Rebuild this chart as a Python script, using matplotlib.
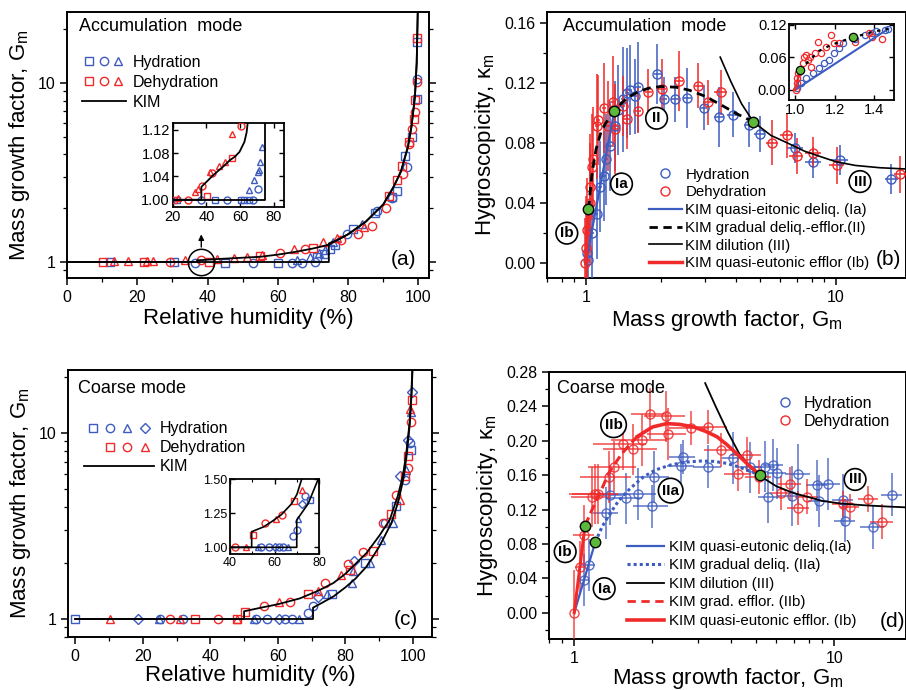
import matplotlib
matplotlib.use("Agg")
import matplotlib.pyplot as plt
from matplotlib.lines import Line2D
from matplotlib.legend_handler import HandlerTuple
from matplotlib.ticker import (FixedLocator, NullFormatter, FormatStrFormatter,
                               MultipleLocator, LogLocator)

plt.rcParams['font.family'] = ['Liberation Sans', 'DejaVu Sans']
plt.rcParams['mathtext.fontset'] = 'custom'
plt.rcParams['mathtext.rm'] = 'Liberation Sans'
plt.rcParams['mathtext.default'] = 'regular'

BLUE = '#3d5cc0'
RED = '#f02a2a'
GREEN = '#5cb83a'

GM_LABEL = 'Mass growth factor, G$_\\mathrm{m}$'
KAPPA_LABEL = 'Hygroscopicity, \u03ba$_\\mathrm{m}$'

# ---------------- (a) accumulation mode, Gm vs RH ----------------
a_hyd_sq_rh = [12.3, 30.3, 45.0, 60.0, 71.1, 73.0, 74.7, 76.3, 81.5, 87.7, 92.4, 93.8, 96.2, 98.1, 99.5, 99.7]
a_hyd_sq_gm = [1.0, 1.0, 0.99, 0.99, 1.07, 1.11, 1.19, 1.24, 1.53, 1.88, 2.31, 2.51, 3.9, 4.99, 8.19, 16.9]
a_hyd_ci_rh = [36.5, 52.8, 64.0, 66.8, 70.6, 79.6, 88.2, 92.4, 96.7, 99.5]
a_hyd_ci_gm = [0.99, 0.99, 0.99, 0.99, 1.0, 1.44, 1.94, 2.29, 3.4, 10.5]
a_hyd_tr_rh = [65.4, 69.2, 71.6, 73.5, 75.8, 83.9]
a_hyd_tr_gm = [1.02, 1.07, 1.12, 1.16, 1.3, 1.64]
a_deh_sq_rh = [10.2, 22.0, 40.5, 54.8, 70.0, 91.5, 93.8, 95.3, 97.4, 98.6, 99.0, 99.7]
a_deh_sq_gm = [1.0, 1.0, 1.0, 1.075, 1.2, 2.33, 2.86, 3.44, 4.68, 6.33, 8.06, 17.9]
a_deh_ci_rh = [29.2, 38.2, 60.5, 67.8, 77.9, 82.9, 86.7, 90.8, 95.5, 97.4, 98.1, 99.1, 99.5]
a_deh_ci_gm = [1.0, 1.02, 1.12, 1.19, 1.32, 1.44, 1.6, 2.01, 3.11, 4.59, 5.55, 6.88, 10.1]
a_deh_tr_rh = [13.3, 17.3, 22.7, 24.5, 33.6, 42.7, 47.4, 51.2, 55.5, 64.5, 72.8, 76.8, 84.4]
a_deh_tr_gm = [1.01, 1.01, 1.01, 1.01, 1.02, 1.04, 1.05, 1.06, 1.1, 1.18, 1.3, 1.36, 1.57]
a_kim_hyd_rh = [0.0, 74.5, 74.5, 77.0, 80.0, 85.0, 90.0, 93.0, 95.0, 97.0, 98.0, 99.0, 99.5, 99.8]
a_kim_hyd_gm = [1.0, 1.0, 1.27, 1.33, 1.43, 1.68, 2.1, 2.65, 3.2, 4.4, 5.7, 8.4, 13.0, 25.0]
a_kim_deh_rh = [0.0, 37.0, 37.0, 44.0, 50.0, 55.0, 60.0, 65.0, 70.0, 74.5, 80.0, 85.0, 90.0, 93.0,
                95.0, 97.0, 98.0, 99.0, 99.5, 99.8]
a_kim_deh_gm = [1.0, 1.0, 1.022, 1.042, 1.057, 1.07, 1.1, 1.14, 1.19, 1.25, 1.43, 1.68, 2.1, 2.65,
                3.2, 4.4, 5.7, 8.4, 13.0, 25.0]

# inset of (a)
ai_hyd_sq_rh = [22.5, 44.9, 60.2, 62.5, 65.3]
ai_hyd_sq_gm = [1.0, 1.0, 1.0, 1.0, 1.0]
ai_hyd_ci_rh = [36.6, 52.4, 67.8, 70.4]
ai_hyd_ci_gm = [1.0, 1.0, 1.0, 1.018]
ai_hyd_tr_rh = [65.1, 68.4, 70.4, 71.0, 72.0, 73.0]
ai_hyd_tr_gm = [1.016, 1.033, 1.048, 1.051, 1.064, 1.09]
ai_deh_sq_rh = [21.0, 40.4, 55.3]
ai_deh_sq_gm = [1.0, 1.007, 1.072]
ai_deh_ci_rh = [29.2, 37.6, 43.5, 60.6]
ai_deh_ci_gm = [1.0, 1.023, 1.045, 1.127]
ai_deh_tr_rh = [23.3, 33.1, 35.1, 42.3, 47.4, 51.3, 55.3]
ai_deh_tr_gm = [1.003, 1.014, 1.018, 1.048, 1.058, 1.065, 1.113]
ai_kim_hyd_rh = [20.0, 74.5, 74.5]
ai_kim_hyd_gm = [1.0, 1.0, 1.14]
ai_kim_deh_rh = [20.0, 37.0, 37.0, 44.0, 50.0, 54.0, 57.0, 59.6, 62.5, 63.8, 64.8]
ai_kim_deh_gm = [1.0, 1.0, 1.022, 1.042, 1.057, 1.068, 1.074, 1.082, 1.099, 1.115, 1.14]

# ---------------- (b) accumulation mode, kappa vs Gm ----------------
b_hyd_gm = [1.01, 1.025, 1.06, 1.105, 1.14, 1.18, 1.21, 1.25, 1.31, 1.35, 1.41, 1.46, 1.50, 1.57,
            1.62, 1.935, 2.05, 2.28, 2.54, 2.96, 3.42, 3.87, 4.51, 4.98, 6.87, 8.14, 10.4, 16.7]
b_hyd_k = [0.007, 0.002, 0.020, 0.033, 0.051, 0.058, 0.069, 0.078, 0.091, 0.102, 0.109, 0.113, 0.115,
           0.111, 0.117, 0.126, 0.109, 0.109, 0.110, 0.1035, 0.097, 0.0986, 0.092, 0.086, 0.0765,
           0.067, 0.0687, 0.056]
b_hyd_kerr = [0.03, 0.03, 0.03, 0.03, 0.03, 0.03, 0.03, 0.03, 0.03, 0.03, 0.035, 0.03, 0.03, 0.025,
              0.03, 0.02, 0.015, 0.015, 0.02, 0.015, 0.02, 0.015, 0.015, 0.012, 0.01, 0.01, 0.01, 0.01]
b_hyd_gerr = [0.01, 0.01, 0.015, 0.015, 0.02, 0.02, 0.02, 0.02, 0.025, 0.03, 0.03, 0.03, 0.03, 0.04,
              0.05, 0.06, 0.06, 0.08, 0.1, 0.1, 0.15, 0.2, 0.2, 0.25, 0.5, 0.6, 0.8, 1.0]
b_deh_gm = [0.994, 1.003, 1.01, 1.035, 1.04, 1.06, 1.07, 1.105, 1.12, 1.18, 1.23, 1.29, 1.31, 1.41,
            1.46, 1.62, 1.78, 2.01, 2.35, 2.82, 3.09, 3.47, 5.55, 6.36, 6.98, 8.14, 10.1, 18.1]
b_deh_k = [0.0, 0.01, 0.022, 0.04, 0.051, 0.064, 0.069, 0.091, 0.095, 0.103, 0.091, 0.1075, 0.089,
           0.1046, 0.096, 0.1015, 0.114, 0.116, 0.121, 0.118, 0.107, 0.1135, 0.080, 0.085, 0.071,
           0.0736, 0.065, 0.059]
b_deh_kerr = [0.03, 0.035, 0.035, 0.04, 0.035, 0.035, 0.035, 0.035, 0.03, 0.03, 0.03, 0.03, 0.03,
              0.02, 0.02, 0.015, 0.015, 0.02, 0.02, 0.015, 0.015, 0.015, 0.015, 0.015, 0.012, 0.01,
              0.012, 0.012]
b_deh_gerr = [0.01, 0.01, 0.01, 0.01, 0.01, 0.015, 0.015, 0.02, 0.02, 0.02, 0.025, 0.03, 0.03, 0.03,
              0.04, 0.05, 0.06, 0.08, 0.1, 0.12, 0.15, 0.2, 0.3, 0.4, 0.45, 0.6, 0.7, 1.0]
b_kim_ia_gm = [1.0, 1.3]
b_kim_ia_k = [0.0, 0.101]
b_kim_ii_gm = [1.025, 1.06, 1.1, 1.15, 1.2, 1.3, 1.4, 1.5, 1.65, 1.8, 2.0, 2.3, 2.6, 3.0, 3.5, 4.0, 4.68]
b_kim_ii_k = [0.036, 0.06, 0.076, 0.087, 0.093, 0.101, 0.107, 0.111, 0.1145, 0.1165, 0.1175, 0.117,
              0.115, 0.111, 0.105, 0.0995, 0.094]
b_kim_iii_gm = [3.45, 3.8, 4.2, 4.68, 5.5, 6.4, 7.5, 8.65, 10.0, 12.0, 15.0, 20.0]
b_kim_iii_k = [0.137, 0.121, 0.106, 0.094, 0.085, 0.080, 0.0745, 0.071, 0.0675, 0.065, 0.0635, 0.0625]
b_kim_ib_gm = [1.0, 1.025]
b_kim_ib_k = [0.0, 0.036]
b_green_gm = [1.025, 1.30, 4.68]
b_green_k = [0.036, 0.101, 0.094]

# inset of (b)
bi_hyd_gm = [1.008, 1.03, 1.057, 1.09, 1.12, 1.146, 1.17, 1.195, 1.22, 1.244, 1.30, 1.35, 1.39,
             1.41, 1.455, 1.47]
bi_hyd_k = [0.003, 0.012, 0.0215, 0.031, 0.04, 0.049, 0.055, 0.068, 0.077, 0.086, 0.095, 0.101,
            0.1045, 0.109, 0.111, 0.112]
bi_deh_gm = [1.005, 1.008, 1.011, 1.016, 1.04, 1.046, 1.057, 1.065, 1.073, 1.081, 1.098, 1.114,
             1.13, 1.154, 1.179, 1.195, 1.22, 1.30, 1.374, 1.39, 1.44]
bi_deh_k = [0.0, 0.012, 0.0215, 0.031, 0.049, 0.0615, 0.0646, 0.055, 0.0615, 0.043, 0.068, 0.089,
            0.068, 0.080, 0.101, 0.086, 0.086, 0.089, 0.1045, 0.098, 0.095]
bi_kim_ia_gm = [1.0, 1.47]
bi_kim_ia_k = [0.0, 0.113]
bi_kim_ii_gm = [1.025, 1.06, 1.12, 1.18, 1.22, 1.29, 1.35, 1.4, 1.47]
bi_kim_ii_k = [0.036, 0.05, 0.072, 0.083, 0.088, 0.097, 0.103, 0.108, 0.113]
bi_kim_ib_gm = [1.0, 1.025]
bi_kim_ib_k = [0.0, 0.036]
bi_green_gm = [1.025, 1.29]
bi_green_k = [0.036, 0.098]

# ---------------- (c) coarse mode, Gm vs RH ----------------
c_hyd_sq_rh = [0.0, 76.0, 85.7, 95.0, 99.3]
c_hyd_sq_gm = [1.0, 1.36, 2.01, 4.03, 8.1]
c_hyd_ci_rh = [25.1, 32.0, 53.4, 56.7, 62.0, 64.3, 69.0, 70.4, 91.6, 97.5, 99.0]
c_hyd_ci_gm = [1.0, 1.0, 1.0, 1.0, 1.0, 1.0, 1.08, 1.175, 3.27, 5.6, 8.82]
c_hyd_tr_rh = [24.9, 53.0, 66.3, 74.4, 81.8, 82.3, 87.2, 90.6, 94.1, 97.8, 99.5]
c_hyd_tr_gm = [1.0, 1.0, 1.0, 1.36, 1.57, 1.8, 2.01, 2.66, 3.27, 6.35, 13.0]
c_hyd_di_rh = [18.5, 60.4, 71.9, 82.6, 96.0, 98.5, 99.8]
c_hyd_di_gm = [1.0, 1.0, 1.32, 2.04, 5.84, 9.2, 16.5]
c_deh_sq_rh = [35.5, 48.0, 50.4, 68.8, 81.3, 88.2, 93.6, 97.5, 98.5, 99.7]
c_deh_sq_gm = [1.0, 1.0, 1.095, 1.36, 1.84, 2.33, 3.68, 5.84, 7.5, 15.1]
c_deh_ci_rh = [28.1, 42.2, 56.0, 63.5, 73.9, 80.6, 85.2, 91.1, 95.0, 98.5, 99.3]
c_deh_ci_gm = [1.0, 1.0, 1.18, 1.24, 1.56, 1.98, 2.28, 3.28, 4.65, 6.47, 11.5]
c_deh_tr_rh = [10.3, 31.0, 47.8, 60.4, 72.0, 78.8, 96.0, 99.0]
c_deh_tr_gm = [1.0, 1.0, 1.0, 1.23, 1.42, 1.73, 4.38, 13.4]
c_kim_hyd_rh = [0.0, 70.4, 70.4, 73.0, 76.4, 80.0, 83.0, 86.2, 90.0, 93.6, 95.5, 97.0, 98.0, 99.0,
                99.5, 99.9]
c_kim_hyd_gm = [1.0, 1.0, 1.15, 1.22, 1.32, 1.48, 1.65, 1.91, 2.45, 3.28, 4.2, 5.5, 7.3, 11.0,
                15.5, 23.0]
c_kim_deh_rh = [0.0, 50.0, 50.0, 55.0, 60.0, 66.5, 72.0, 76.4, 80.0, 86.2, 90.0, 93.1, 95.5, 97.0,
                98.0, 99.0, 99.5, 99.8]
c_kim_deh_gm = [1.0, 1.0, 1.1, 1.15, 1.2, 1.29, 1.42, 1.56, 1.75, 2.26, 2.8, 3.41, 4.6, 5.9, 7.8,
                11.5, 16.0, 23.0]

# inset of (c)
ci_hyd_sq_rh = [75.8]
ci_hyd_sq_gm = [1.35]
ci_hyd_ci_rh = [53.9, 57.5, 62.0, 63.6, 68.4, 70.1, 73.6]
ci_hyd_ci_gm = [1.0, 1.0, 1.0, 1.0, 1.08, 1.127, 1.377]
ci_hyd_tr_rh = [52.7, 66.1, 70.6]
ci_hyd_tr_gm = [1.0, 1.0, 1.21]
ci_hyd_di_rh = [60.2, 72.1]
ci_hyd_di_gm = [1.0, 1.32]
ci_deh_sq_rh = [50.4, 68.8]
ci_deh_sq_gm = [1.09, 1.34]
ci_deh_ci_rh = [42.2, 55.7, 63.4]
ci_deh_ci_gm = [1.0, 1.176, 1.237]
ci_deh_tr_rh = [47.2, 60.6, 72.1]
ci_deh_tr_gm = [1.0, 1.206, 1.42]
ci_kim_hyd_rh = [40.0, 69.9, 69.9, 72.0, 75.0, 77.0, 79.5]
ci_kim_hyd_gm = [1.0, 1.0, 1.2, 1.25, 1.32, 1.4, 1.5]
ci_kim_deh_rh = [40.0, 49.7, 49.7, 55.0, 58.6, 63.0, 67.6, 70.0, 72.1]
ci_kim_deh_gm = [1.0, 1.0, 1.115, 1.15, 1.188, 1.24, 1.32, 1.39, 1.5]

# ---------------- (d) coarse mode, kappa vs Gm ----------------
d_hyd_gm = [1.086, 1.135, 1.33, 1.375, 1.58, 1.76, 1.99, 2.02, 2.58, 2.62, 3.27, 4.10, 4.76, 5.40,
            5.59, 5.84, 6.02, 6.88, 7.28, 8.58, 8.72, 9.5, 10.8, 11.0, 14.1, 16.7]
d_hyd_k = [0.038, 0.0555, 0.116, 0.137, 0.133, 0.138, 0.124, 0.158, 0.171, 0.181, 0.170, 0.180,
           0.169, 0.170, 0.134, 0.172, 0.162, 0.136, 0.161, 0.148, 0.130, 0.150, 0.131, 0.107,
           0.0996, 0.137]
d_hyd_kerr = [0.03, 0.03, 0.03, 0.035, 0.03, 0.03, 0.025, 0.03, 0.025, 0.02, 0.025, 0.03, 0.03,
              0.03, 0.03, 0.03, 0.03, 0.035, 0.035, 0.03, 0.03, 0.03, 0.03, 0.025, 0.025, 0.025]
d_hyd_gerr = [0.05, 0.07, 0.15, 0.15, 0.25, 0.3, 0.3, 0.3, 0.3, 0.3, 0.4, 0.4, 0.5, 0.5, 0.5, 0.5,
              0.5, 0.8, 0.8, 0.8, 0.8, 1.0, 1.0, 1.0, 1.5, 1.5]
d_deh_gm = [1.0, 1.054, 1.093, 1.17, 1.205, 1.23, 1.355, 1.425, 1.535, 1.69, 1.83, 1.95, 2.26,
            2.30, 2.81, 3.26, 3.67, 4.28, 4.61, 5.14, 6.25, 6.78, 7.29, 7.85, 10.8, 11.5, 13.5, 15.3]
d_deh_k = [0.0, 0.0536, 0.0905, 0.135, 0.138, 0.138, 0.158, 0.170, 0.1965, 0.190, 0.201, 0.2315,
           0.2283, 0.208, 0.2148, 0.216, 0.189, 0.161, 0.184, 0.158, 0.139, 0.150, 0.1215, 0.135,
           0.1266, 0.1227, 0.132, 0.106]
d_deh_kerr = [0.05, 0.03, 0.035, 0.035, 0.035, 0.035, 0.03, 0.03, 0.03, 0.03, 0.03, 0.03, 0.03,
              0.03, 0.02, 0.02, 0.02, 0.02, 0.02, 0.02, 0.02, 0.02, 0.02, 0.02, 0.015, 0.015,
              0.015, 0.02]
d_deh_gerr = [0.0, 0.05, 0.1, 0.2, 0.25, 0.25, 0.3, 0.3, 0.35, 0.4, 0.45, 0.3, 0.4, 0.4, 0.5, 0.6,
              0.5, 0.5, 0.6, 0.6, 0.6, 0.7, 0.7, 0.8, 1.0, 1.0, 1.2, 1.5]
d_kim_ia_gm = [1.0, 1.205]
d_kim_ia_k = [0.0, 0.082]
d_kim_iia_gm = [1.205, 1.28, 1.375, 1.48, 1.594, 1.72, 1.848, 2.05, 2.34, 2.65, 3.05, 3.45, 3.86,
                4.25, 4.62, 5.19]
d_kim_iia_k = [0.082, 0.1, 0.1156, 0.13, 0.1407, 0.15, 0.158, 0.166, 0.1717, 0.175, 0.1764, 0.176,
               0.1737, 0.170, 0.166, 0.160]
d_kim_iib_dash_gm = [1.10, 1.16, 1.22, 1.29, 1.355, 1.44, 1.525, 1.64, 1.75]
d_kim_iib_dash_k = [0.101, 0.117, 0.131, 0.147, 0.162, 0.174, 0.185, 0.196, 0.205]
d_kim_iib_gm = [1.75, 2.0, 2.27, 2.55, 2.88, 3.2, 3.54, 3.85, 4.22, 4.6, 5.19]
d_kim_iib_k = [0.205, 0.216, 0.220, 0.219, 0.216, 0.211, 0.2047, 0.196, 0.185, 0.174, 0.160]
d_kim_iii_gm = [3.19, 3.5, 3.9, 4.35, 4.8, 5.19, 6.0, 7.0, 7.86, 9.0, 10.6, 13.0, 16.0, 19.0]
d_kim_iii_k = [0.267, 0.240, 0.210, 0.183, 0.168, 0.159, 0.147, 0.139, 0.135, 0.130, 0.127, 0.125,
               0.1235, 0.1225]
d_kim_ib_gm = [1.0, 1.10]
d_kim_ib_k = [0.0, 0.101]
d_green_gm = [1.10, 1.205, 5.19]
d_green_k = [0.101, 0.082, 0.160]


def style_main(ax):
    for s in ax.spines.values():
        s.set_linewidth(1.4)
    ax.tick_params(which='both', direction='out', right=True, top=False, labelsize=11.5)
    ax.tick_params(which='major', length=5, width=1.1)
    ax.tick_params(which='minor', length=3, width=0.9)


def style_inset(ax, size):
    for s in ax.spines.values():
        s.set_linewidth(1.3)
    ax.tick_params(which='both', direction='in', right=True, top=True, labelsize=size, pad=2)
    ax.tick_params(which='major', length=3.5, width=1)
    ax.tick_params(which='minor', length=2, width=0.8)


def log_gm_axis(axis):
    axis.set_major_locator(FixedLocator([1, 10]))
    axis.set_minor_locator(LogLocator(base=10, subs=(2, 3, 4, 5, 6, 7, 8, 9)))
    axis.set_minor_formatter(NullFormatter())


def markers(ax, x, y, m, c, ms=6, mew=1.0):
    ax.plot(x, y, ls='none', marker=m, mfc='none', mec=c, ms=ms, mew=mew, zorder=3)


def circled(ax, x, y, s):
    ax.text(x, y, s, ha='center', va='center', fontsize=11, fontweight='bold', zorder=12,
            bbox=dict(boxstyle='circle,pad=0.25', fc='white', ec='black', lw=1.2))


fig = plt.figure(figsize=(9.06, 6.90), dpi=100)

# ======== (a) ========
ax = fig.add_axes([0.0740, 0.5971, 0.3995, 0.3855])
ax.set_yscale('log')
markers(ax, a_hyd_sq_rh, a_hyd_sq_gm, 's', BLUE)
markers(ax, a_hyd_ci_rh, a_hyd_ci_gm, 'o', BLUE)
markers(ax, a_hyd_tr_rh, a_hyd_tr_gm, '^', BLUE)
markers(ax, a_deh_sq_rh, a_deh_sq_gm, 's', RED)
markers(ax, a_deh_ci_rh, a_deh_ci_gm, 'o', RED)
markers(ax, a_deh_tr_rh, a_deh_tr_gm, '^', RED)
ax.plot(a_kim_hyd_rh, a_kim_hyd_gm, color='k', lw=1.3, zorder=4)
ax.plot(a_kim_deh_rh, a_kim_deh_gm, color='k', lw=1.3, zorder=4)
# zoom marker and arrow pointing at the inset
ax.plot([38.2], [1.0], ls='none', marker='o', ms=19, mfc='none', mec='k', mew=1.1, zorder=5)
ax.annotate('', xy=(38.2, 1.48), xytext=(38.2, 1.17),
            arrowprops=dict(arrowstyle='-|>', color='k', lw=1.0, mutation_scale=8))
ax.set_xlim(0, 103)
ax.set_ylim(0.814, 25)
ax.xaxis.set_major_locator(MultipleLocator(20))
ax.xaxis.set_minor_locator(MultipleLocator(10))
log_gm_axis(ax.yaxis)
ax.set_yticklabels(['1', '10'])
style_main(ax)
ax.set_xlabel('Relative humidity (%)', fontsize=16, labelpad=2)
ax.set_ylabel(GM_LABEL, fontsize=16, labelpad=4)
ax.text(0.033, 0.944, 'Accumulation  mode', transform=ax.transAxes, fontsize=13, va='center')
ax.text(0.929, 0.068, '(a)', transform=ax.transAxes, fontsize=15, ha='center', va='center')
h_hyd = tuple(Line2D([], [], ls='none', marker=m, mfc='none', mec=BLUE, ms=6) for m in 'so^')
h_deh = tuple(Line2D([], [], ls='none', marker=m, mfc='none', mec=RED, ms=6) for m in 'so^')
h_kim = Line2D([], [], color='k', lw=1.3)
ax.legend([h_hyd, h_deh, h_kim], ['Hydration', 'Dehydration', 'KIM'],
          handler_map={tuple: HandlerTuple(ndivide=None)}, loc='upper left',
          bbox_to_anchor=(0.041, 0.84), borderaxespad=0, borderpad=0, frameon=False,
          fontsize=11.5, handlelength=2.75, handletextpad=0.45, labelspacing=0.32)

# inset (a)
ai = fig.add_axes([0.1906, 0.7004, 0.1229, 0.1209])
markers(ai, ai_hyd_sq_rh, ai_hyd_sq_gm, 's', BLUE, ms=5)
markers(ai, ai_hyd_ci_rh, ai_hyd_ci_gm, 'o', BLUE, ms=5)
markers(ai, ai_hyd_tr_rh, ai_hyd_tr_gm, '^', BLUE, ms=5)
markers(ai, ai_deh_sq_rh, ai_deh_sq_gm, 's', RED, ms=5)
markers(ai, ai_deh_ci_rh, ai_deh_ci_gm, 'o', RED, ms=5)
markers(ai, ai_deh_tr_rh, ai_deh_tr_gm, '^', RED, ms=5)
ai.plot(ai_kim_hyd_rh, ai_kim_hyd_gm, color='k', lw=1.3, zorder=4)
ai.plot(ai_kim_deh_rh, ai_kim_deh_gm, color='k', lw=1.3, zorder=4)
ai.set_xlim(20, 86)
ai.set_ylim(0.988, 1.131)
ai.xaxis.set_major_locator(MultipleLocator(20))
ai.yaxis.set_major_locator(MultipleLocator(0.04))
ai.yaxis.set_major_formatter(FormatStrFormatter('%.2f'))
style_inset(ai, 10.5)

# ======== (b) ========
bx = fig.add_axes([0.6038, 0.5971, 0.3962, 0.3855])
bx.set_xscale('log')
bx.errorbar(b_hyd_gm, b_hyd_k, yerr=b_hyd_kerr, xerr=b_hyd_gerr, fmt='o', mfc='none', mec=BLUE,
            ms=6.5, mew=1.0, ecolor=BLUE, elinewidth=1.1, capsize=0, zorder=3)
bx.errorbar(b_deh_gm, b_deh_k, yerr=b_deh_kerr, xerr=b_deh_gerr, fmt='o', mfc='none', mec=RED,
            ms=6.5, mew=1.0, ecolor=RED, elinewidth=1.1, capsize=0, zorder=3)
bx.plot(b_kim_ia_gm, b_kim_ia_k, color=BLUE, lw=1.6, zorder=5)
bx.plot(b_kim_ii_gm, b_kim_ii_k, color='k', lw=2.0, dashes=(3, 2), zorder=5)
bx.plot(b_kim_iii_gm, b_kim_iii_k, color='k', lw=1.2, zorder=5)
bx.plot(b_kim_ib_gm, b_kim_ib_k, color=RED, lw=2.5, zorder=5)
bx.plot(b_green_gm, b_green_k, ls='none', marker='o', ms=7.5, mfc=GREEN, mec='k', mew=1.0, zorder=8)
circled(bx, 0.84, 0.020, 'Ib')
circled(bx, 1.39, 0.0527, 'Ia')
circled(bx, 1.92, 0.0964, 'II')
circled(bx, 12.5, 0.0543, 'III')
bx.set_xlim(0.70, 19.1)
bx.set_ylim(-0.0098, 0.167)
log_gm_axis(bx.xaxis)
bx.set_xticklabels(['1', '10'])
bx.yaxis.set_major_locator(MultipleLocator(0.04))
bx.yaxis.set_minor_locator(MultipleLocator(0.02))
bx.yaxis.set_major_formatter(FormatStrFormatter('%.2f'))
style_main(bx)
bx.set_xlabel(GM_LABEL, fontsize=16, labelpad=2)
bx.set_ylabel(KAPPA_LABEL, fontsize=16, labelpad=4)
bx.text(0.044, 0.944, 'Accumulation  mode', transform=bx.transAxes, fontsize=13, va='center')
bx.text(0.950, 0.068, '(b)', transform=bx.transAxes, fontsize=15, ha='center', va='center')
b_handles = [
    Line2D([], [], ls='none', marker='o', mfc='none', mec=BLUE, ms=6.5),
    Line2D([], [], ls='none', marker='o', mfc='none', mec=RED, ms=6.5),
    Line2D([], [], color=BLUE, lw=1.6),
    Line2D([], [], color='k', lw=2.0, dashes=(3, 2)),
    Line2D([], [], color='k', lw=1.2),
    Line2D([], [], color=RED, lw=2.5),
]
b_labels = ['Hydration', 'Dehydration', 'KIM quasi-eitonic deliq. (Ia)',
            'KIM gradual deliq.-efflor.(II)', 'KIM dilution (III)', 'KIM quasi-eutonic efflor (Ib)']
bx.legend(b_handles, b_labels, loc='upper left', bbox_to_anchor=(0.285, 0.415), borderaxespad=0,
          borderpad=0, frameon=False, fontsize=10.8, handlelength=2.15, handletextpad=0.25,
          labelspacing=0.25)

# inset (b)
bi = fig.add_axes([0.8712, 0.8551, 0.1159, 0.1097])
markers(bi, bi_hyd_gm, bi_hyd_k, 'o', BLUE, ms=4.5, mew=0.9)
markers(bi, bi_deh_gm, bi_deh_k, 'o', RED, ms=4.5, mew=0.9)
bi.plot(bi_kim_ia_gm, bi_kim_ia_k, color=BLUE, lw=1.5, zorder=4)
bi.plot(bi_kim_ii_gm, bi_kim_ii_k, color='k', lw=1.6, dashes=(1.5, 2.5), zorder=4)
bi.plot(bi_kim_ib_gm, bi_kim_ib_k, color=RED, lw=1.8, zorder=4)
bi.plot(bi_green_gm, bi_green_k, ls='none', marker='o', ms=6, mfc=GREEN, mec='k', mew=0.9, zorder=8)
bi.set_xlim(0.971, 1.5)
bi.set_ylim(-0.0185, 0.1213)
bi.xaxis.set_major_locator(MultipleLocator(0.2))
bi.xaxis.set_major_formatter(FormatStrFormatter('%.1f'))
bi.yaxis.set_major_locator(MultipleLocator(0.06))
bi.yaxis.set_major_formatter(FormatStrFormatter('%.2f'))
style_inset(bi, 10.5)

# ======== (c) ========
cx = fig.add_axes([0.0751, 0.0768, 0.4017, 0.3870])
cx.set_yscale('log')
markers(cx, c_hyd_sq_rh, c_hyd_sq_gm, 's', BLUE)
markers(cx, c_hyd_ci_rh, c_hyd_ci_gm, 'o', BLUE)
markers(cx, c_hyd_tr_rh, c_hyd_tr_gm, '^', BLUE)
markers(cx, c_hyd_di_rh, c_hyd_di_gm, 'D', BLUE, ms=5.5)
markers(cx, c_deh_sq_rh, c_deh_sq_gm, 's', RED)
markers(cx, c_deh_ci_rh, c_deh_ci_gm, 'o', RED)
markers(cx, c_deh_tr_rh, c_deh_tr_gm, '^', RED)
cx.plot(c_kim_hyd_rh, c_kim_hyd_gm, color='k', lw=1.3, zorder=4)
cx.plot(c_kim_deh_rh, c_kim_deh_gm, color='k', lw=1.3, zorder=4)
cx.set_xlim(-2.1, 105.6)
cx.set_ylim(0.80, 21.8)
cx.xaxis.set_major_locator(MultipleLocator(20))
cx.xaxis.set_minor_locator(MultipleLocator(10))
log_gm_axis(cx.yaxis)
cx.set_yticklabels(['1', '10'])
style_main(cx)
cx.set_xlabel('Relative humidity (%)', fontsize=16, labelpad=1)
cx.set_ylabel(GM_LABEL, fontsize=16, labelpad=4)
cx.text(0.026, 0.931, 'Coarse mode', transform=cx.transAxes, fontsize=13, va='center')
cx.text(0.928, 0.064, '(c)', transform=cx.transAxes, fontsize=15, ha='center', va='center')
blank = Line2D([], [], ls='none')
hc_hyd = tuple(Line2D([], [], ls='none', marker=m, mfc='none', mec=BLUE,
                      ms=5.5 if m == 'D' else 6) for m in 'so^D')
hc_deh = (blank,) + tuple(Line2D([], [], ls='none', marker=m, mfc='none', mec=RED, ms=6)
                          for m in 'so^')
cx.legend([hc_hyd, hc_deh, h_kim], ['Hydration', 'Dehydration', 'KIM'],
          handler_map={tuple: HandlerTuple(ndivide=None)}, loc='upper left',
          bbox_to_anchor=(0.044, 0.808), borderaxespad=0, borderpad=0, frameon=False,
          fontsize=11.5, handlelength=4.35, handletextpad=0.4, labelspacing=0.25)

# inset (c)
ci = fig.add_axes([0.2539, 0.1971, 0.0985, 0.1083])
markers(ci, ci_hyd_sq_rh, ci_hyd_sq_gm, 's', BLUE, ms=5)
markers(ci, ci_hyd_ci_rh, ci_hyd_ci_gm, 'o', BLUE, ms=5)
markers(ci, ci_hyd_tr_rh, ci_hyd_tr_gm, '^', BLUE, ms=5)
markers(ci, ci_hyd_di_rh, ci_hyd_di_gm, 'D', BLUE, ms=4.5)
markers(ci, ci_deh_sq_rh, ci_deh_sq_gm, 's', RED, ms=5)
markers(ci, ci_deh_ci_rh, ci_deh_ci_gm, 'o', RED, ms=5)
markers(ci, ci_deh_tr_rh, ci_deh_tr_gm, '^', RED, ms=5)
ci.plot(ci_kim_hyd_rh, ci_kim_hyd_gm, color='k', lw=1.2, zorder=4)
ci.plot(ci_kim_deh_rh, ci_kim_deh_gm, color='k', lw=1.2, zorder=4)
ci.set_xlim(40, 80)
ci.set_ylim(0.951, 1.5)
ci.xaxis.set_major_locator(MultipleLocator(20))
ci.xaxis.set_minor_locator(MultipleLocator(10))
ci.yaxis.set_major_locator(MultipleLocator(0.25))
ci.yaxis.set_major_formatter(FormatStrFormatter('%.2f'))
style_inset(ci, 9)

# ======== (d) ========
dx = fig.add_axes([0.6060, 0.0739, 0.3940, 0.3870])
dx.set_xscale('log')
dx.errorbar(d_hyd_gm, d_hyd_k, yerr=d_hyd_kerr, xerr=d_hyd_gerr, fmt='o', mfc='none', mec=BLUE,
            ms=6.5, mew=1.0, ecolor=BLUE, elinewidth=1.1, capsize=0, alpha=0.85, zorder=3)
dx.errorbar(d_deh_gm, d_deh_k, yerr=d_deh_kerr, xerr=d_deh_gerr, fmt='o', mfc='none', mec=RED,
            ms=6.5, mew=1.0, ecolor=RED, elinewidth=1.1, capsize=0, alpha=0.85, zorder=3)
dx.plot(d_kim_ia_gm, d_kim_ia_k, color=BLUE, lw=1.6, zorder=5)
dx.plot(d_kim_iia_gm, d_kim_iia_k, color=BLUE, lw=2.2, dashes=(1, 1), zorder=5)
dx.plot(d_kim_iii_gm, d_kim_iii_k, color='k', lw=1.3, zorder=5)
dx.plot(d_kim_iib_dash_gm, d_kim_iib_dash_k, color=RED, lw=2.2, dashes=(3, 1.5), zorder=5)
dx.plot(d_kim_iib_gm, d_kim_iib_k, color=RED, lw=2.6, zorder=5)
dx.plot(d_kim_ib_gm, d_kim_ib_k, color=RED, lw=2.2, zorder=5)
dx.plot(d_green_gm, d_green_k, ls='none', marker='o', ms=7.5, mfc=GREEN, mec='k', mew=1.0, zorder=8)
circled(dx, 1.417, 0.2186, 'IIb')
circled(dx, 2.35, 0.142, 'IIa')
circled(dx, 12.04, 0.155, 'III')
circled(dx, 0.923, 0.071, 'Ib')
circled(dx, 1.304, 0.028, 'Ia')
dx.set_xlim(0.80, 18.9)
dx.set_ylim(-0.0306, 0.28)
log_gm_axis(dx.xaxis)
dx.set_xticklabels(['1', '10'])
dx.yaxis.set_major_locator(MultipleLocator(0.04))
dx.yaxis.set_minor_locator(MultipleLocator(0.02))
dx.yaxis.set_major_formatter(FormatStrFormatter('%.2f'))
style_main(dx)
dx.set_xlabel(GM_LABEL, fontsize=16, labelpad=0)
dx.set_ylabel(KAPPA_LABEL, fontsize=16, labelpad=4)
dx.text(0.023, 0.939, 'Coarse mode', transform=dx.transAxes, fontsize=13, va='center')
dx.text(0.963, 0.065, '(d)', transform=dx.transAxes, fontsize=15, ha='center', va='center')
d_pts = [Line2D([], [], ls='none', marker='o', mfc='none', mec=BLUE, ms=6.5),
         Line2D([], [], ls='none', marker='o', mfc='none', mec=RED, ms=6.5)]
leg_top = dx.legend(d_pts, ['Hydration', 'Dehydration'], loc='upper left',
                    bbox_to_anchor=(0.635, 0.911), borderaxespad=0, borderpad=0, frameon=False,
                    fontsize=11.5, handlelength=1.2, handletextpad=0.55, labelspacing=0.2)
dx.add_artist(leg_top)
d_lines = [Line2D([], [], color=BLUE, lw=1.6),
           Line2D([], [], color=BLUE, lw=2.2, dashes=(1, 1)),
           Line2D([], [], color='k', lw=1.3),
           Line2D([], [], color=RED, lw=2.0, dashes=(3, 2)),
           Line2D([], [], color=RED, lw=2.6)]
d_labels = ['KIM quasi-eutonic deliq.(Ia)', 'KIM gradual deliq. (IIa)', 'KIM dilution (III)',
            'KIM grad. efflor. (IIb)', 'KIM quasi-eutonic efflor. (Ib)']
dx.legend(d_lines, d_labels, loc='upper left', bbox_to_anchor=(0.218, 0.371), borderaxespad=0,
          borderpad=0, frameon=False, fontsize=10.8, handlelength=2.5, handletextpad=0.32,
          labelspacing=0.3)

fig.savefig('out.png', dpi=100)
